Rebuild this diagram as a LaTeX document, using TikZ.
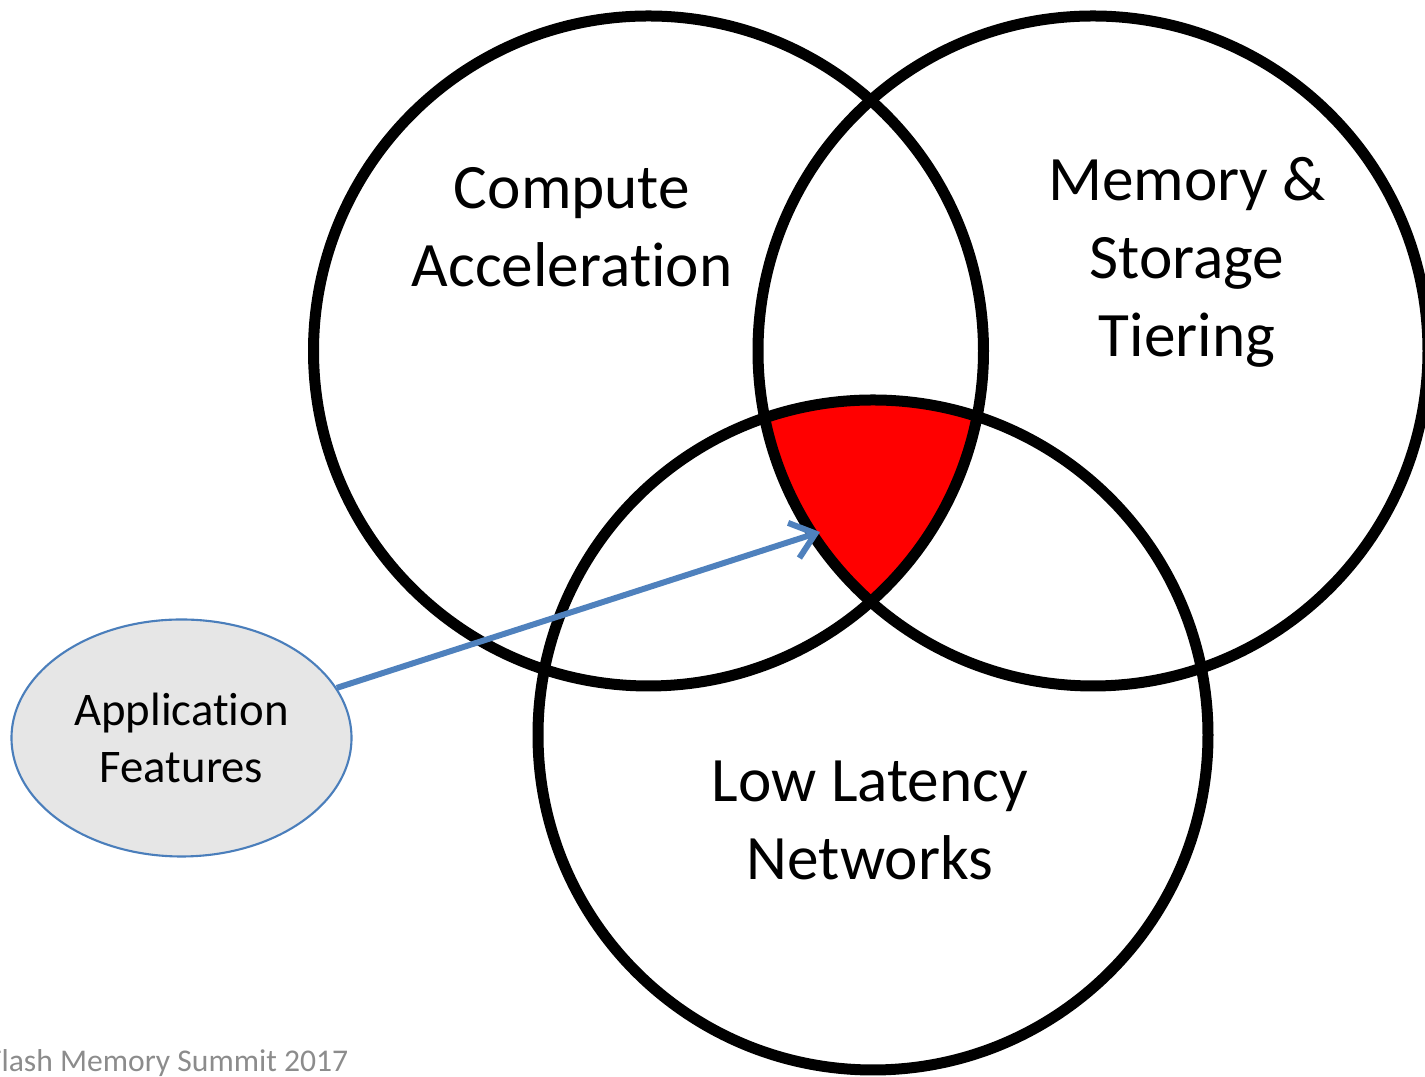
\documentclass[tikz,border=0pt]{standalone}
\usepackage{fontspec}
\setmainfont{Carlito}[Ligatures={NoCommon}]
\usetikzlibrary{shapes.geometric,arrows.meta}
\definecolor{arrowblue}{HTML}{4F81BD}
\definecolor{ellfill}{HTML}{E6E6E6}
\definecolor{ellborder}{HTML}{4A7EBB}
\definecolor{footgray}{HTML}{8C8C8C}
\begin{document}
\begin{tikzpicture}[
  ring/.style={circle, draw=black, line width=0.11cm, minimum size=6.70cm, inner sep=0pt, outer sep=0pt},
  biglabel/.style={font=\fontsize{18}{22.2}\selectfont, align=center, inner sep=0pt, anchor=base},
  appnode/.style={ellipse, draw=ellborder, fill=ellfill, line width=0.6pt, minimum width=3.40cm, minimum height=2.37cm, inner sep=0pt, align=center, font=\fontsize{13.3}{16.2}\selectfont},
  pointer/.style={draw=arrowblue, line width=1.7pt, -{Straight Barb[length=6.5pt,width=10.5pt]}}
]
\useasboundingbox (0,0) rectangle (14.25,10.77);
\coordinate (cA) at (6.485,7.26);
\coordinate (cB) at (10.93,7.26);
\coordinate (cC) at (8.73,3.42);
\begin{scope}
  \clip (cA) circle (3.35);
  \clip (cB) circle (3.35);
  \fill[red] (cC) circle (3.35);
\end{scope}
\node[ring] (compute) at (cA) {};
\node[ring] (memory) at (cB) {};
\node[ring] (network) at (cC) {};
\node[biglabel] (computelabel) at (5.72,7.90) {Compute\\Acceleration};
\node[biglabel] (memorylabel) at (11.87,7.20) {Memory \&\\Storage\\Tiering};
\node[biglabel] (networklabel) at (8.70,1.97) {Low Latency\\Networks};
\node[appnode] (app) at (1.815,3.39) {Application\\Features};
\coordinate (tip) at (8.20,5.45);
\draw[pointer] (app) -- (tip);
\node[font=\fontsize{9}{11}\selectfont, text=footgray, anchor=base east, inner sep=0pt] (footer) at (3.49,0.05) {Flash Memory Summit 2017};
\end{tikzpicture}
\end{document}
